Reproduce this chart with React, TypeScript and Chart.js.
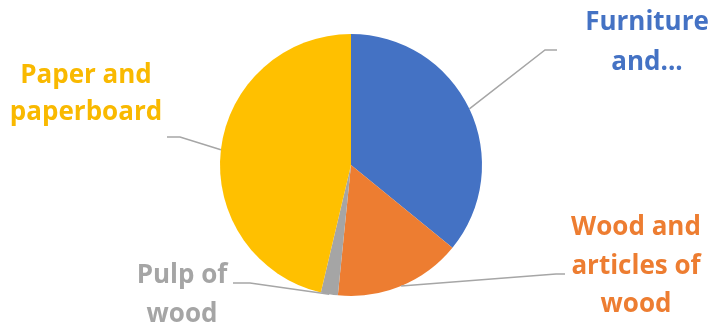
import React, { useEffect, useRef } from "react";
import { Chart, registerables } from "chart.js";

Chart.register(...registerables);

const categories = ["Furniture and...", "Wood and articles of wood", "Pulp of wood", "Paper and paperboard"];
const values = [35.9, 15.7, 2.1, 46.3];
const sliceColors = ["#4472C4", "#ED7D31", "#A5A5A5", "#FFC000"];
const textColors = ["#4472C4", "#ED7D31", "#A5A5A5", "#F9B900"];
const labelLines = [
  ["Furniture", "and..."],
  ["Wood and", "articles of", "wood"],
  ["Pulp of", "wood"],
  ["Paper and", "paperboard"],
];
// label layout: center x, first baseline, line height, leader anchor (x, y), elbow x
const labelLayout = [
  { cx: 647, y: 30, lh: 40, ax: 557, ay: 50, ex: 545 },
  { cx: 636, y: 235, lh: 38.5, ax: 565, ay: 274, ex: 556 },
  { cx: 182, y: 283, lh: 39, ax: 233, ay: 283, ex: 250 },
  { cx: 86, y: 83, lh: 37, ax: 167, ay: 137, ex: 180 },
];

const labelPlugin = {
  id: "excelLabels",
  afterDatasetsDraw(chart: any) {
    const ctx = chart.ctx;
    const meta = chart.getDatasetMeta(0);
    ctx.save();
    meta.data.forEach((arc: any, i: number) => {
      const p = arc.getProps(["x", "y", "startAngle", "endAngle", "outerRadius"], true);
      const mid = (p.startAngle + p.endAngle) / 2;
      const sx = p.x + Math.cos(mid) * p.outerRadius;
      const sy = p.y + Math.sin(mid) * p.outerRadius;
      const L = labelLayout[i];
      ctx.beginPath();
      ctx.strokeStyle = "#A6A6A6";
      ctx.lineWidth = 1.5;
      ctx.moveTo(L.ax, L.ay);
      ctx.lineTo(L.ex, L.ay);
      ctx.lineTo(sx, sy);
      ctx.stroke();
      ctx.fillStyle = textColors[i];
      ctx.font = "bold 26px 'Open Sans'";
      ctx.textAlign = "center";
      ctx.textBaseline = "alphabetic";
      labelLines[i].forEach((t, j) => {
        ctx.fillText(t, L.cx, L.y + j * L.lh);
      });
    });
    ctx.restore();
  },
};

export default function App() {
  const ref = useRef<HTMLCanvasElement | null>(null);
  useEffect(() => {
    document.body.style.margin = "0";
    const chart = new Chart(ref.current as HTMLCanvasElement, {
      type: "pie",
      data: {
        labels: categories,
        datasets: [
          {
            data: values,
            backgroundColor: sliceColors,
            borderWidth: 0,
            hoverOffset: 0,
          },
        ],
      },
      options: {
        animation: false,
        responsive: false,
        layout: { padding: { left: 220, right: 231, top: 34, bottom: 30 } },
        plugins: { legend: { display: false }, tooltip: { enabled: false } },
      },
      plugins: [labelPlugin],
    });
    return () => chart.destroy();
  }, []);
  return (
    <div style={{ width: 713, height: 326, background: "#fff" }}>
      <canvas ref={ref} width={713} height={326} />
    </div>
  );
}
